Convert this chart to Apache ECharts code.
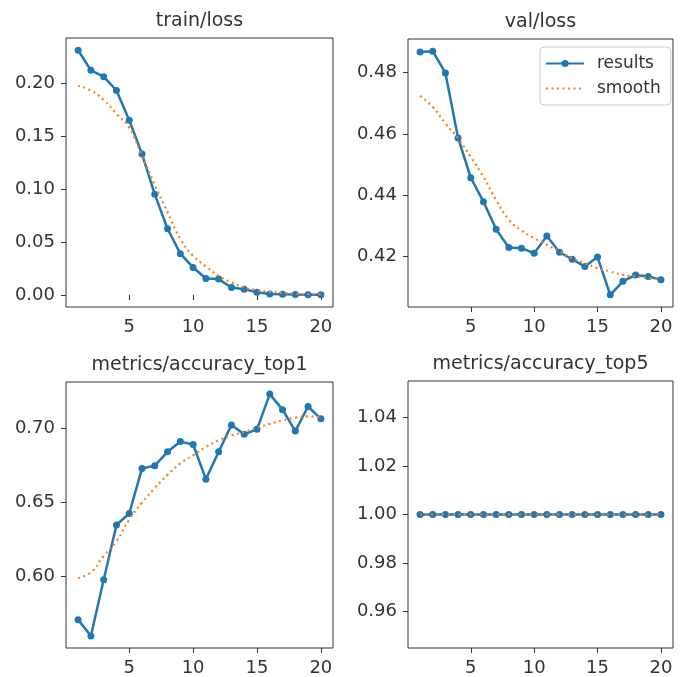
<!DOCTYPE html>
<html>
<head>
<meta charset="utf-8">
<script src="https://cdn.jsdelivr.net/npm/echarts@6/dist/echarts.min.js"></script>
<style>
  html, body { margin: 0; padding: 0; background: #fff; }
  #chart { width: 680px; height: 677px; }
</style>
</head>
<body>
<div id="chart"></div>
<script>
// epochs (x)
const epochs = [1, 2, 3, 4, 5, 6, 7, 8, 9, 10, 11, 12, 13, 14, 15, 16, 17, 18, 19, 20];

// train/loss
const trainLoss = [0.231, 0.212, 0.206, 0.193, 0.165, 0.133, 0.095, 0.0625, 0.039, 0.026, 0.0155, 0.015, 0.007, 0.0055, 0.0025, 0.001, 0.0006, 0.0004, 0.0003, 0.0002];
const trainLossSmooth = [0.1975, 0.193, 0.184, 0.171, 0.158, 0.131, 0.104, 0.078, 0.053, 0.037, 0.027, 0.018, 0.012, 0.007, 0.0046, 0.003, 0.002, 0.0012, 0.0008, 0.0005];

// val/loss
const valLoss = [0.4867, 0.487, 0.4799, 0.4587, 0.4457, 0.4379, 0.4289, 0.4229, 0.4227, 0.4211, 0.4267, 0.4214, 0.4191, 0.4167, 0.4198, 0.4075, 0.4119, 0.414, 0.4135, 0.4124];
const valLossSmooth = [0.4724, 0.4688, 0.4634, 0.4585, 0.4525, 0.446, 0.4384, 0.432, 0.4285, 0.426, 0.4238, 0.4216, 0.4195, 0.4178, 0.4162, 0.4151, 0.414, 0.4135, 0.413, 0.4125];

// metrics/accuracy_top1
const top1 = [0.571, 0.56, 0.598, 0.635, 0.6427, 0.6732, 0.675, 0.6844, 0.6913, 0.6893, 0.6659, 0.6844, 0.7025, 0.6962, 0.6996, 0.7234, 0.7129, 0.6984, 0.715, 0.7067];
const top1Smooth = [0.599, 0.603, 0.614, 0.624, 0.6386, 0.65, 0.66, 0.6688, 0.6766, 0.6821, 0.6877, 0.6922, 0.6955, 0.6978, 0.7007, 0.7033, 0.7056, 0.7074, 0.7083, 0.708];

// metrics/accuracy_top5
const top5 = [1, 1, 1, 1, 1, 1, 1, 1, 1, 1, 1, 1, 1, 1, 1, 1, 1, 1, 1, 1];
const top5Smooth = [1, 1, 1, 1, 1, 1, 1, 1, 1, 1, 1, 1, 1, 1, 1, 1, 1, 1, 1, 1];

// tick labels
const xTicks = [5, 10, 15, 20];
const trainTicks = [0.00, 0.05, 0.10, 0.15, 0.20];
const valTicks = [0.42, 0.44, 0.46, 0.48];
const top1Ticks = [0.60, 0.65, 0.70];
const top5Ticks = [0.96, 0.98, 1.00, 1.02, 1.04];

const titles = ['train/loss', 'val/loss', 'metrics/accuracy_top1', 'metrics/accuracy_top5'];

const FONT = 'DejaVu Sans';
const BLUE = '#1f77b4';
const ORANGE = '#ff7f0e';
const INK = '#333';

// matplotlib-like 5% margins
function padRange(arrs) {
    const all = [].concat(...arrs);
    let lo = Math.min(...all), hi = Math.max(...all);
    if (lo === hi) { lo -= 0.05; hi += 0.05; }
    const m = (hi - lo) * 0.05;
    return [lo - m, hi + m];
}

const panels = [
    { title: titles[0], y: trainLoss, s: trainLossSmooth, ticks: trainTicks, grid: { left: 66, top: 38, width: 267, height: 269 } },
    { title: titles[1], y: valLoss, s: valLossSmooth, ticks: valTicks, grid: { left: 408, top: 39, width: 265, height: 268 } },
    { title: titles[2], y: top1, s: top1Smooth, ticks: top1Ticks, grid: { left: 66, top: 382, width: 267, height: 269 } },
    { title: titles[3], y: top5, s: top5Smooth, ticks: top5Ticks, grid: { left: 408, top: 381, width: 265, height: 270 } }
];

const xMin = epochs[0] - (epochs[epochs.length - 1] - epochs[0]) * 0.05;
const xMax = epochs[epochs.length - 1] + (epochs[epochs.length - 1] - epochs[0]) * 0.05;

const option = {
    backgroundColor: '#fff',
    animation: false,
    textStyle: { fontFamily: FONT },
    title: [],
    grid: [],
    xAxis: [],
    yAxis: [],
    series: [],
    legend: {
        data: [
            { name: 'results' },
            { name: 'smooth', itemStyle: { opacity: 0 } }
        ],
        left: 540,
        top: 47,
        orient: 'vertical',
        itemWidth: 38,
        itemHeight: 9,
        itemGap: 8,
        padding: [8, 10, 8, 5],
        borderColor: '#ccc',
        borderWidth: 1,
        borderRadius: 4,
        backgroundColor: 'rgba(255,255,255,0.8)',
        textStyle: { fontFamily: FONT, fontSize: 17, color: INK, padding: [0, 0, 0, 8] }
    }
};

panels.forEach((p, i) => {
    const g = p.grid;
    option.title.push({
        text: p.title,
        left: g.left + g.width / 2,
        top: g.top - 26,
        textAlign: 'center',
        padding: 0,
        textStyle: { fontFamily: FONT, fontSize: 19, fontWeight: 'normal', color: INK }
    });
    option.grid.push({
        left: g.left, top: g.top, width: g.width, height: g.height,
        show: true, borderColor: INK, borderWidth: 1, backgroundColor: 'transparent'
    });
    option.xAxis.push({
        type: 'value', gridIndex: i, min: xMin, max: xMax,
        axisLine: { show: false },
        axisTick: { show: true, inside: false, length: 5, customValues: xTicks, lineStyle: { color: INK } },
        axisLabel: { customValues: xTicks, margin: 11, fontSize: 18, color: INK, fontFamily: FONT },
        splitLine: { show: false }
    });
    const yr = i === 3 ? [0.945, 1.055] : padRange([p.y, p.s]);
    option.yAxis.push({
        type: 'value', gridIndex: i, min: yr[0], max: yr[1],
        axisLine: { show: false },
        axisTick: { show: true, inside: false, length: 5, customValues: p.ticks, lineStyle: { color: INK } },
        axisLabel: { customValues: p.ticks, margin: 11, fontSize: 18, color: INK, fontFamily: FONT,
            formatter: v => Number(v).toFixed(2) },
        splitLine: { show: false }
    });
    option.series.push({
        name: 'results', type: 'line', xAxisIndex: i, yAxisIndex: i,
        data: epochs.map((e, k) => [e, p.y[k]]),
        symbol: 'circle', symbolSize: 7,
        lineStyle: { color: BLUE, width: 2.5 },
        itemStyle: { color: BLUE },
        z: 3
    });
    option.series.push({
        name: 'smooth', type: 'line', xAxisIndex: i, yAxisIndex: i,
        data: epochs.map((e, k) => [e, p.s[k]]),
        symbol: 'none', smooth: true,
        lineStyle: { color: ORANGE, width: 2.2, type: [2, 3.5] },
        itemStyle: { color: ORANGE },
        z: 4
    });
});

const chart = echarts.init(document.getElementById('chart'), null, { renderer: 'canvas' });
chart.setOption(option);
</script>
</body>
</html>
